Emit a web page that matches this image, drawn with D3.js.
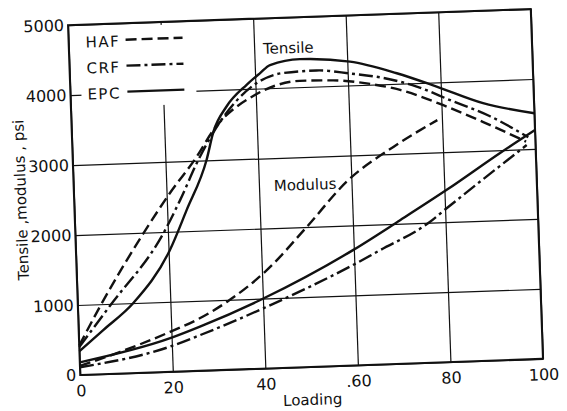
<!DOCTYPE html>
<html>
<head>
<meta charset="utf-8">
<script src="https://cdn.jsdelivr.net/npm/d3@7"></script>
<style>
    body { margin: 0; background: #fff; }
    text { font-family: "DejaVu Sans", sans-serif; fill: #111; }
</style>
</head>
<body>
<script>
// ticks
var xTicks = [0, 20, 40, 60, 80, 100];
var xTickLabels = ["0", "20", "40", ".60", "80", "100"];
var yTicks = [0, 1000, 2000, 3000, 4000, 5000];

// tensile curves (loading, psi)
var hafTensileLoad = [0, 4.8, 14.7, 20.7, 26.8, 30.6, 39.8, 44.6, 49.6, 56.8, 64, 71.2, 80.4, 88.9, 98];
var hafTensile = [420, 970, 1990, 2550, 3060, 3430, 3910, 4040, 4090, 4080, 4020, 3910, 3670, 3410, 3110];
var crfTensileLoad = [0, 6.9, 19, 22.9, 27.1, 30.5, 40.3, 46.1, 53.3, 60.5, 67.6, 74.8, 81.9, 90.4, 98.5];
var crfTensile = [400, 970, 1980, 2450, 3010, 3390, 4080, 4210, 4230, 4170, 4090, 3950, 3740, 3490, 3170];
var epcTensileLoad = [0, 5.3, 12, 20.3, 24.2, 28.9, 30.6, 33.6, 38.1, 41.1, 43.3, 49.8, 60.6, 70.6, 79.1, 89, 100];
var epcTensile = [340, 630, 1000, 1740, 2300, 3010, 3410, 3760, 4060, 4220, 4330, 4400, 4340, 4150, 3940, 3680, 3510];

// modulus curves
var hafModulusLoad = [0, 8.8, 19.7, 25.6, 32.2, 41, 50, 59, 69.3, 79];
var hafModulus = [130, 310, 570, 730, 970, 1400, 2000, 2630, 3100, 3460];
var crfModulusLoad = [0, 19.6, 26.2, 40, 60.5, 65.6, 76.6, 79.6, 98.1];
var crfModulus = [110, 360, 510, 860, 1460, 1630, 2010, 2160, 3060];
var epcModulusLoad = [0, 19.7, 26.2, 40.1, 59.9, 70.2, 80.5, 92.3, 100];
var epcModulus = [180, 480, 630, 1000, 1650, 2050, 2460, 2960, 3270];

var legendNames = ["HAF", "CRF", "EPC"];
var dashes = ["11,5", "14,4,3,4", null];

function pairs(xs, ys) {
    var out = [];
    for (var i = 0; i < xs.length; i++) {
        out.push({load: xs[i], val: ys[i]});
    }
    return out;
}

var series = [
    {data: pairs(hafTensileLoad, hafTensile), dash: dashes[0]},
    {data: pairs(crfTensileLoad, crfTensile), dash: dashes[1]},
    {data: pairs(epcTensileLoad, epcTensile), dash: dashes[2]},
    {data: pairs(hafModulusLoad, hafModulus), dash: dashes[0]},
    {data: pairs(crfModulusLoad, crfModulus), dash: dashes[1]},
    {data: pairs(epcModulusLoad, epcModulus), dash: dashes[2]}
];

var width = 567,
    height = 411;

var plotLeft = 74, plotRight = 537, plotTop = 17, plotBottom = 367;

var svg = d3.select("body").append("svg")
    .attr("width", width)
    .attr("height", height);

svg.append("rect")
    .attr("width", width)
    .attr("height", height)
    .attr("fill", "#fff");

// the scanned figure sits a little tilted
var g = svg.append("g")
    .attr("transform", "rotate(-2,305.5,192)");

var x = d3.scaleLinear().domain([0, 100]).range([plotLeft, plotRight]);
var y = d3.scaleLinear().domain([0, 5000]).range([plotBottom, plotTop]);

var xAxis = g.append("g")
    .attr("transform", "translate(0," + plotBottom + ")")
    .call(d3.axisBottom(x)
        .tickValues(xTicks)
        .tickFormat(function(d, i) { return xTickLabels[i]; })
        .tickSize(-(plotBottom - plotTop))
        .tickPadding(10));

var yAxis = g.append("g")
    .attr("transform", "translate(" + plotLeft + ",0)")
    .call(d3.axisLeft(y)
        .tickValues(yTicks)
        .tickFormat(d3.format("d"))
        .tickSize(-(plotRight - plotLeft))
        .tickPadding(4));

[xAxis, yAxis].forEach(function(a) {
    a.select(".domain").remove();
    a.selectAll("line").attr("stroke", "#111").attr("stroke-width", 1.2);
    a.selectAll("text")
        .attr("fill", "#111")
        .style("font-family", "'DejaVu Sans', sans-serif")
        .style("font-size", "16px");
});

// legend box hides the grid behind it
g.append("rect")
    .attr("x", 85)
    .attr("y", 20)
    .attr("width", 115)
    .attr("height", 80)
    .attr("fill", "#fff");

// frame
g.append("rect")
    .attr("x", plotLeft)
    .attr("y", plotTop)
    .attr("width", plotRight - plotLeft)
    .attr("height", plotBottom - plotTop)
    .attr("fill", "none")
    .attr("stroke", "#111")
    .attr("stroke-width", 2);

var line = d3.line()
    .x(function(d) { return x(d.load); })
    .y(function(d) { return y(d.val); })
    .curve(d3.curveMonotoneX);

g.selectAll(".curve")
    .data(series)
    .enter().append("path")
    .attr("class", "curve")
    .attr("d", function(d) { return line(d.data); })
    .attr("fill", "none")
    .attr("stroke", "#111")
    .attr("stroke-width", 2.4)
    .attr("stroke-dasharray", function(d) { return d.dash; });

// legend
for (var i = 0; i < 3; i++) {
    g.append("text")
        .attr("x", 91)
        .attr("y", 40 + i * 26)
        .style("font-size", "15px")
        .style("letter-spacing", "1.5px")
        .text(legendNames[i]);
    g.append("line")
        .attr("x1", 131)
        .attr("x2", 188)
        .attr("y1", 33.5 + i * 26)
        .attr("y2", 33.5 + i * 26)
        .attr("stroke", "#111")
        .attr("stroke-width", 2.4)
        .attr("stroke-dasharray", dashes[i]);
}

// curve group labels
g.append("text")
    .attr("x", x(41.9))
    .attr("y", y(4490))
    .style("font-size", "15px")
    .text("Tensile");

g.append("text")
    .attr("x", x(43.2))
    .attr("y", y(2530))
    .style("font-size", "15px")
    .text("Modulus");

// axis titles
g.append("text")
    .attr("transform", "translate(26,190) rotate(-90)")
    .attr("text-anchor", "middle")
    .style("font-size", "15px")
    .text("Tensile ,modulus , psi");

g.append("text")
    .attr("x", x(50))
    .attr("y", 405)
    .attr("text-anchor", "middle")
    .style("font-size", "15px")
    .text("Loading");
</script>
</body>
</html>
